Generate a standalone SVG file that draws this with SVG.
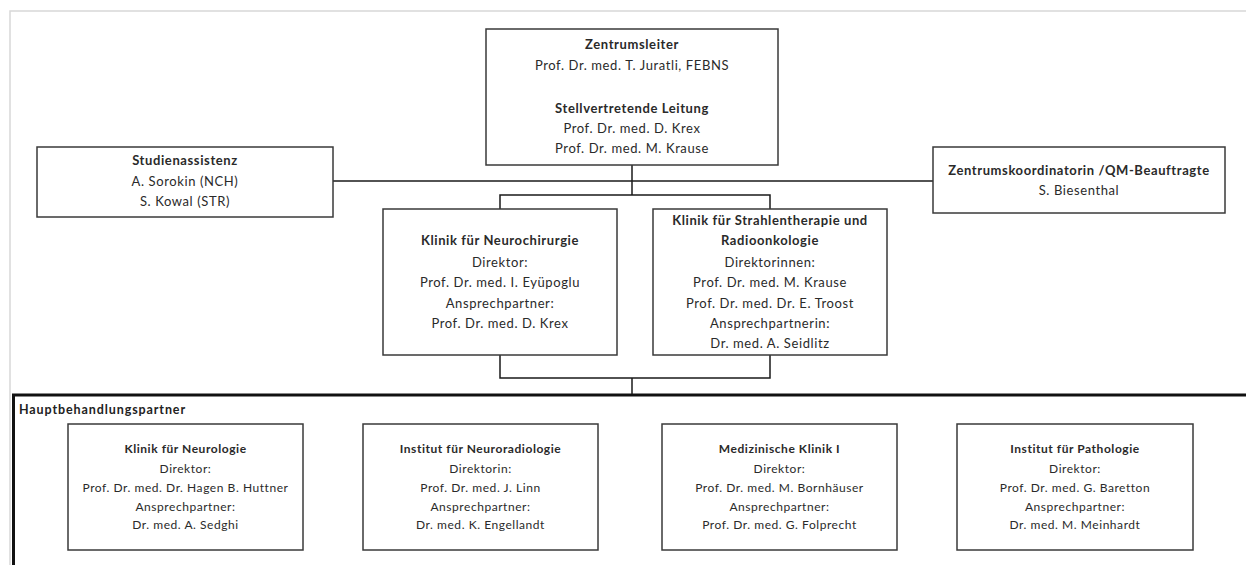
<svg xmlns="http://www.w3.org/2000/svg" width="1246" height="565" viewBox="0 0 1246 565">
<style>
.box{fill:#fff;stroke:#3a3a3a;stroke-width:1.5}
.t{font-family:Lato,"Liberation Sans",sans-serif;font-size:13px;fill:#2a2a2a;text-anchor:middle;letter-spacing:0.6px}
.s{font-size:12px;letter-spacing:0.55px}
.b{font-weight:bold}
.con{fill:none;stroke:#1a1a1a;stroke-width:1.5}
</style>
<rect width="1246" height="565" fill="#fff"/>
<path d="M10,565 V11 H1246" fill="none" stroke="#d8d8d8" stroke-width="1.5"/>
<g id="frame">
<path d="M13.5,565 V395 H1246" fill="none" stroke="#111" stroke-width="3"/>
<text x="19" y="414" style="font-family:Lato,'Liberation Sans',sans-serif;font-size:12.5px;fill:#222;letter-spacing:0.9px" font-weight="bold">Hauptbehandlungspartner</text>
</g>
<g id="connectors">
<path class="con" d="M632,165 V195"/>
<path class="con" d="M333,181 H933"/>
<path class="con" d="M500,209 V195 H770 V209"/>
<path class="con" d="M500,355 V378 H770 V355"/>
<path class="con" d="M632,378 V394"/>
</g>
<g id="zentrumsleiter">
<rect class="box" x="486" y="29" width="292" height="136"/>
<text class="t b" x="632" y="49">Zentrumsleiter</text>
<text class="t" x="632" y="70">Prof. Dr. med. T. Juratli, FEBNS</text>
<text class="t b" x="632" y="113">Stellvertretende Leitung</text>
<text class="t" x="632" y="133">Prof. Dr. med. D. Krex</text>
<text class="t" x="632" y="153">Prof. Dr. med. M. Krause</text>
</g>
<g id="studienassistenz">
<rect class="box" x="37" y="147" width="296" height="70"/>
<text class="t b" x="185" y="165">Studienassistenz</text>
<text class="t" x="185" y="186">A. Sorokin (NCH)</text>
<text class="t" x="185" y="206">S. Kowal (STR)</text>
</g>
<g id="zentrumskoordinatorin">
<rect class="box" x="933" y="147" width="292" height="66"/>
<text class="t b" x="1079" y="175">Zentrumskoordinatorin /QM-Beauftragte</text>
<text class="t" x="1079" y="195">S. Biesenthal</text>
</g>
<g id="neurochirurgie">
<rect class="box" x="383" y="209" width="234" height="146"/>
<text class="t b" x="500" y="245">Klinik für Neurochirurgie</text>
<text class="t" x="500" y="267">Direktor:</text>
<text class="t" x="500" y="287">Prof. Dr. med. I. Eyüpoglu</text>
<text class="t" x="500" y="308">Ansprechpartner:</text>
<text class="t" x="500" y="328">Prof. Dr. med. D. Krex</text>
</g>
<g id="strahlentherapie">
<rect class="box" x="653" y="209" width="234" height="146"/>
<text class="t b" x="770" y="225">Klinik für Strahlentherapie und</text>
<text class="t b" x="770" y="245">Radioonkologie</text>
<text class="t" x="770" y="267">Direktorinnen:</text>
<text class="t" x="770" y="287">Prof. Dr. med. M. Krause</text>
<text class="t" x="770" y="308">Prof. Dr. med. Dr. E. Troost</text>
<text class="t" x="770" y="328">Ansprechpartnerin:</text>
<text class="t" x="770" y="348">Dr. med. A. Seidlitz</text>
</g>
<g id="neurologie">
<rect class="box" x="68" y="424" width="235" height="126"/>
<text class="t s b" x="185.5" y="453">Klinik für Neurologie</text>
<text class="t s" x="185.5" y="473">Direktor:</text>
<text class="t s" x="185.5" y="492">Prof. Dr. med. Dr. Hagen B. Huttner</text>
<text class="t s" x="185.5" y="511">Ansprechpartner:</text>
<text class="t s" x="185.5" y="529">Dr. med. A. Sedghi</text>
</g>
<g id="neuroradiologie">
<rect class="box" x="363" y="424" width="235" height="126"/>
<text class="t s b" x="480.5" y="453">Institut für Neuroradiologie</text>
<text class="t s" x="480.5" y="473">Direktorin:</text>
<text class="t s" x="480.5" y="492">Prof. Dr. med. J. Linn</text>
<text class="t s" x="480.5" y="511">Ansprechpartner:</text>
<text class="t s" x="480.5" y="529">Dr. med. K. Engellandt</text>
</g>
<g id="medizinische-klinik">
<rect class="box" x="662" y="424" width="235" height="126"/>
<text class="t s b" x="779.5" y="453">Medizinische Klinik I</text>
<text class="t s" x="779.5" y="473">Direktor:</text>
<text class="t s" x="779.5" y="492">Prof. Dr. med. M. Bornhäuser</text>
<text class="t s" x="779.5" y="511">Ansprechpartner:</text>
<text class="t s" x="779.5" y="529">Prof. Dr. med. G. Folprecht</text>
</g>
<g id="pathologie">
<rect class="box" x="957" y="424" width="236" height="126"/>
<text class="t s b" x="1075" y="453">Institut für Pathologie</text>
<text class="t s" x="1075" y="473">Direktor:</text>
<text class="t s" x="1075" y="492">Prof. Dr. med. G. Baretton</text>
<text class="t s" x="1075" y="511">Ansprechpartner:</text>
<text class="t s" x="1075" y="529">Dr. med. M. Meinhardt</text>
</g>
</svg>
